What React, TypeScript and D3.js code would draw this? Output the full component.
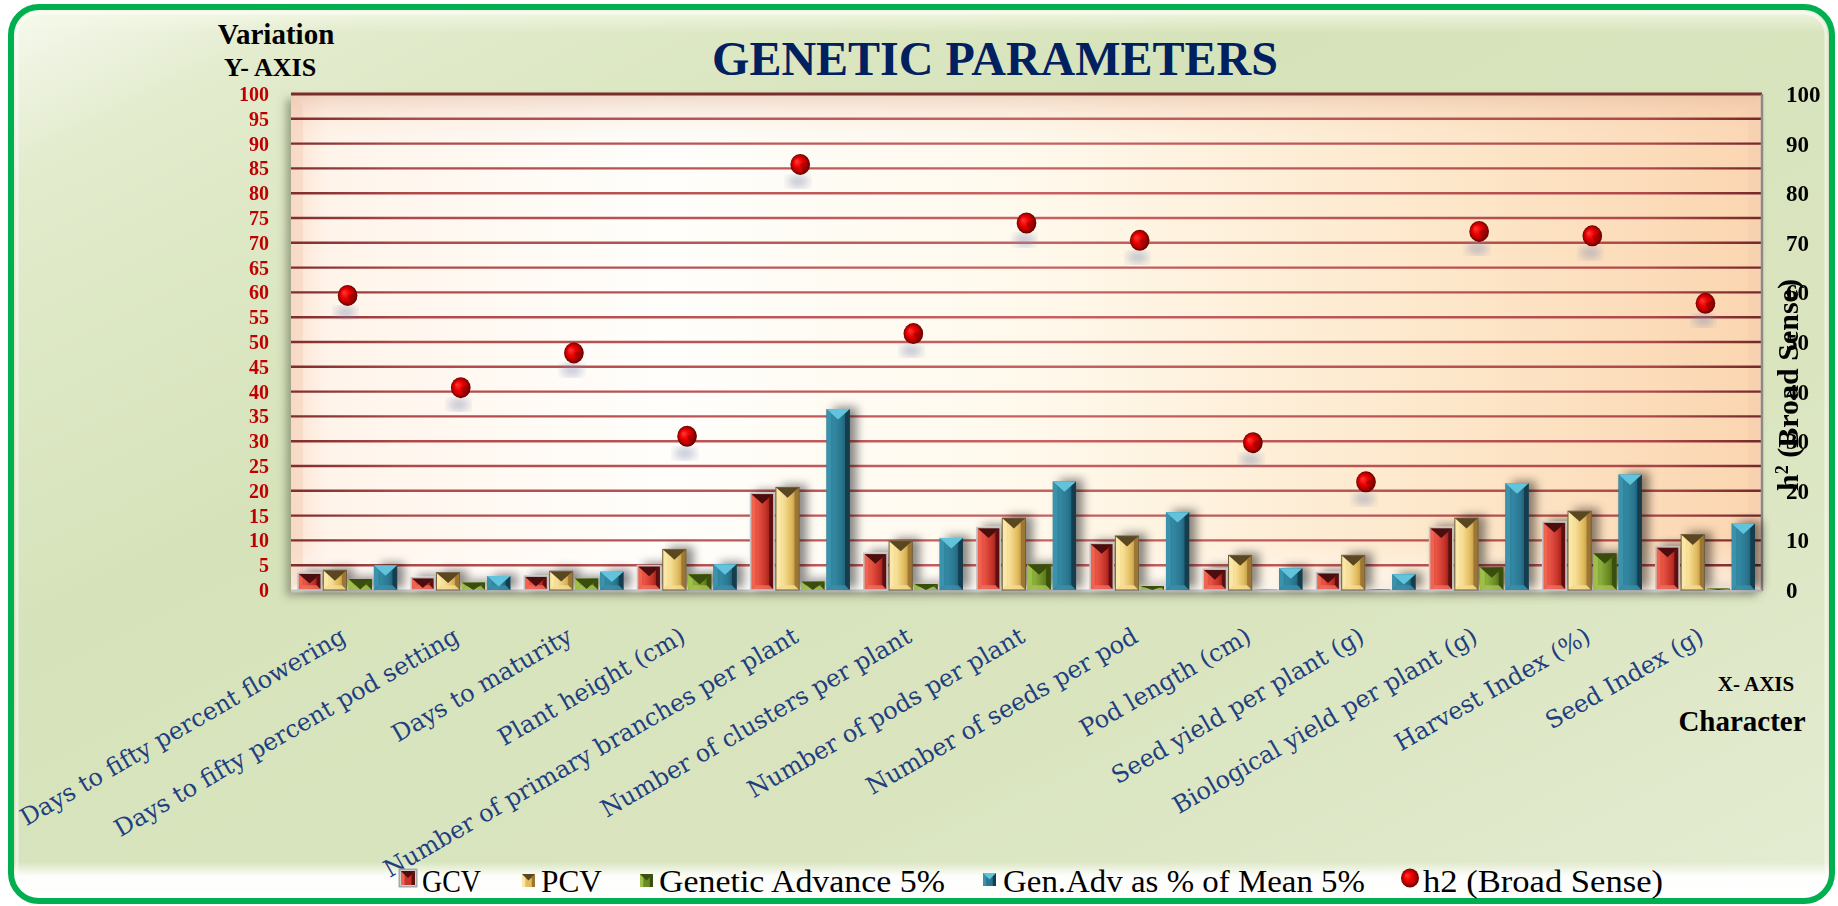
import React from "react";
import * as d3 from "d3";

const categories = [
  "Days to fifty percent flowering",
  "Days to fifty percent pod setting",
  "Days to maturity",
  "Plant height (cm)",
  "Number of primary branches per plant",
  "Number of clusters per plant",
  "Number of pods per plant",
  "Number of seeds per pod",
  "Pod length (cm)",
  "Seed yield per plant (g)",
  "Biological yield per plant (g)",
  "Harvest Index (%)",
  "Seed Index (g)",
];
const gcv = [3.4, 2.5, 2.8, 4.9, 19.5, 7.4, 12.6, 9.4, 4.2, 3.5, 12.6, 13.7, 8.7];
const pcv = [4.0, 3.5, 3.8, 8.2, 20.7, 9.9, 14.5, 10.9, 7.0, 7.0, 14.5, 15.9, 11.2];
const geneticAdvance = [2.2, 1.5, 2.3, 3.2, 1.7, 1.2, 5.2, 0.8, 0.05, 0.1, 4.6, 7.4, 0.3];
const gaPercentMean = [5.0, 2.8, 3.7, 5.2, 36.5, 10.5, 21.9, 15.7, 4.4, 3.2, 21.5, 23.3, 13.4];
const h2 = [59.4, 40.8, 47.8, 31.0, 85.8, 51.7, 74.0, 70.5, 29.7, 21.8, 72.3, 71.4, 57.8];

const seriesNames = ["GCV", "PCV", "Genetic Advance 5%", "Gen.Adv as % of Mean 5%"];
const h2Name = "h2 (Broad Sense)";
const leftTicks = [0, 5, 10, 15, 20, 25, 30, 35, 40, 45, 50, 55, 60, 65, 70, 75, 80, 85, 90, 95, 100];
const rightTicks = [0, 10, 20, 30, 40, 50, 60, 70, 80, 90, 100];

const W = 1838;
const H = 906;
const PL = 291, PR = 1762, PT = 94, PB = 590;

const barStyles = [
  { g: ["#d8443a", "#e85444", "#c63328", "#6a1414"], left: "#f0644f", right: "#5e1010", cap: "#4e0c0c", bottom: "#f07060", stroke: "#c4c4c4", sw: 1.6 },
  { g: ["#f2d27c", "#f7e19a", "#e2bc5e", "#a8843a"], left: "#fbe8a8", right: "#9c7630", cap: "#5a4620", bottom: "#f6dc94", stroke: "#6e5e40", sw: 1 },
  { g: ["#7c9c30", "#8cae3c", "#6a8a24", "#445e14"], left: "#9ec04a", right: "#3a5010", cap: "#3a4e0e", bottom: "#a6c454", stroke: "none", sw: 0 },
  { g: ["#276e86", "#3388a2", "#2a7690", "#17485a"], left: "#3a92ac", right: "#143e4e", cap: "#62c4dc", bottom: "#3a90aa", stroke: "none", sw: 0 },
];

function Bar({ x, y, w, h, i }: { x: number; y: number; w: number; h: number; i: number }) {
  if (h <= 0.2) return null;
  const st = barStyles[i];
  const b = Math.min(w * 0.2, h / 2);
  const capD = Math.min(w * 0.45, h);
  return (
    <g>
      <rect x={x} y={y} width={w} height={h} fill={`url(#barg${i})`} />
      <polygon points={`${x},${y} ${x + b},${y + b} ${x + b},${y + h - b} ${x},${y + h}`} fill={st.left} />
      <polygon points={`${x + w},${y} ${x + w - b},${y + b} ${x + w - b},${y + h - b} ${x + w},${y + h}`} fill={st.right} />
      <polygon points={`${x},${y + h} ${x + b},${y + h - b} ${x + w - b},${y + h - b} ${x + w},${y + h}`} fill={st.bottom} opacity={0.8} />
      <polygon points={`${x},${y} ${x + w},${y} ${x + w / 2},${y + capD}`} fill={st.cap} />
      {st.stroke !== "none" && (
        <rect x={x} y={y} width={w} height={h} fill="none" stroke={st.stroke} strokeWidth={st.sw} />
      )}
    </g>
  );
}

function LegendMarker({ x, y, s, i }: { x: number; y: number; s: number; i: number }) {
  const st = barStyles[i];
  const b = s * 0.25;
  return (
    <g>
      <rect x={x} y={y} width={s} height={s} fill={st.g[2]} />
      <polygon points={`${x},${y} ${x + b},${y + b} ${x + b},${y + s} ${x},${y + s}`} fill={st.left} />
      <polygon points={`${x + s},${y} ${x + s - b},${y + b} ${x + s - b},${y + s} ${x + s},${y + s}`} fill={st.right} />
      <polygon points={`${x},${y} ${x + s},${y} ${x + s / 2},${y + s * 0.5}`} fill={st.cap} />
      {i === 0 && <rect x={x - 1.5} y={y - 1.5} width={s + 3} height={s + 3} fill="none" stroke="#a8a8a8" strokeWidth={2} />}
    </g>
  );
}

export default function App() {
  const x = d3.scaleBand<string>().domain(categories).range([PL, PR]).paddingInner(0).paddingOuter(0);
  const bw = x.bandwidth();
  const inner = d3
    .scaleBand<number>()
    .domain([0, 1, 2, 3])
    .range([bw * 0.062, bw * 0.938])
    .paddingInner(0.08);
  const y = d3.scaleLinear().domain([0, 100]).range([PB, PT]);
  const y2 = d3.scaleLinear().domain([0, 100]).range([PB, PT]);
  const series = [gcv, pcv, geneticAdvance, gaPercentMean];

  const serif = "'Liberation Serif', 'Times New Roman', serif";

  const legendItems = [
    { name: seriesNames[0], tx: 422, len: 59 },
    { name: seriesNames[1], tx: 541, len: 61 },
    { name: seriesNames[2], tx: 659, len: 286 },
    { name: seriesNames[3], tx: 1003, len: 362 },
    { name: h2Name, tx: 1423, len: 240 },
  ];

  return (
    <div style={{ position: "absolute", left: 0, top: 0, width: W, height: H, background: "#fff" }}>
      <svg width={W} height={H} viewBox={`0 0 ${W} ${H}`} style={{ display: "block" }}>
        <defs>
          <linearGradient id="bg" x1="0" y1="0" x2="1" y2="1">
            <stop offset="0" stopColor="#f6f9ee" />
            <stop offset="0.1" stopColor="#e2ebcc" />
            <stop offset="0.35" stopColor="#d6e3ba" />
            <stop offset="0.7" stopColor="#dae5c0" />
            <stop offset="1" stopColor="#e4ecd2" />
          </linearGradient>
          <linearGradient id="topHi" x1="0" y1="0" x2="0" y2="1">
            <stop offset="0" stopColor="#f4f9e6" stopOpacity="1" />
            <stop offset="1" stopColor="#f4f9e6" stopOpacity="0" />
          </linearGradient>
          <linearGradient id="botHi" x1="0" y1="0" x2="0" y2="1">
            <stop offset="0" stopColor="#ffffff" stopOpacity="0" />
            <stop offset="0.35" stopColor="#ffffff" stopOpacity="0.95" />
            <stop offset="1" stopColor="#ffffff" stopOpacity="1" />
          </linearGradient>
          <linearGradient id="plotH" x1="0" y1="0" x2="1" y2="0">
            <stop offset="0" stopColor="#fbe2d0" />
            <stop offset="0.025" stopColor="#fff4ea" />
            <stop offset="0.25" stopColor="#fffefb" />
            <stop offset="0.5" stopColor="#fff9ec" />
            <stop offset="0.8" stopColor="#fde6c8" />
            <stop offset="1" stopColor="#fbd5b0" />
          </linearGradient>
          <linearGradient id="plotTop" x1="0" y1="0" x2="0" y2="1">
            <stop offset="0" stopColor="#e0b49c" stopOpacity="0.5" />
            <stop offset="0.05" stopColor="#f4cdb4" stopOpacity="0.2" />
            <stop offset="0.12" stopColor="#ffffff" stopOpacity="0" />
            <stop offset="0.9" stopColor="#ffffff" stopOpacity="0" />
            <stop offset="1" stopColor="#ffffff" stopOpacity="0.6" />
          </linearGradient>
          <linearGradient id="gridG" gradientUnits="userSpaceOnUse" x1={PL} y1="0" x2={PR} y2="0">
            <stop offset="0" stopColor="#7e2c2c" />
            <stop offset="0.08" stopColor="#b04a4a" />
            <stop offset="0.5" stopColor="#c86262" />
            <stop offset="0.92" stopColor="#b04a4a" />
            <stop offset="1" stopColor="#742828" />
          </linearGradient>
          {barStyles.map((st, i) => (
            <linearGradient key={i} id={`barg${i}`} x1="0" y1="0" x2="1" y2="0">
              <stop offset="0" stopColor={st.g[0]} />
              <stop offset="0.3" stopColor={st.g[1]} />
              <stop offset="0.65" stopColor={st.g[2]} />
              <stop offset="1" stopColor={st.g[3]} />
            </linearGradient>
          ))}
          <radialGradient id="sphere" cx="0.5" cy="0.5" r="0.5" fx="0.3" fy="0.35">
            <stop offset="0" stopColor="#ff3a3a" />
            <stop offset="0.45" stopColor="#ee0000" />
            <stop offset="0.8" stopColor="#b00000" />
            <stop offset="1" stopColor="#5a0000" />
          </radialGradient>
          <filter id="barShadow" x="-50%" y="-20%" width="250%" height="140%">
            <feDropShadow dx="7" dy="-2" stdDeviation="5" floodColor="#000" floodOpacity="0.45" />
          </filter>
          <filter id="plotShadow" x="-5%" y="-5%" width="110%" height="110%">
            <feDropShadow dx="-5" dy="5" stdDeviation="4" floodColor="#5a5a40" floodOpacity="0.5" />
          </filter>
          <filter id="blur4">
            <feGaussianBlur stdDeviation="4" />
          </filter>
          <clipPath id="frameClip">
            <rect x={11} y={7} width={1821} height={894} rx={28} />
          </clipPath>
        </defs>

        {/* outer frame */}
        <rect x={11} y={7} width={1821} height={894} rx={28} fill="url(#bg)" />
        <g clipPath="url(#frameClip)">
          <rect x={11} y={7} width={1821} height={26} fill="url(#topHi)" />
          <rect x={11} y={862} width={1821} height={40} fill="url(#botHi)" />
          <rect x={17} y={13} width={1809} height={882} rx={22} fill="none" stroke="#ffffff" strokeOpacity={0.5} strokeWidth={3} />
        </g>
        <rect x={11} y={7} width={1821} height={894} rx={28} fill="none" stroke="#00b050" strokeWidth={6} />

        {/* title */}
        <text x={995} y={75} textAnchor="middle" fontFamily={serif} fontWeight="bold" fontSize={48} fill="#002060">
          GENETIC PARAMETERS
        </text>
        <text x={276} y={44} textAnchor="middle" fontFamily={serif} fontWeight="bold" fontSize={29} fill="#000">
          Variation
        </text>
        <text x={270} y={76} textAnchor="middle" fontFamily={serif} fontWeight="bold" fontSize={26} fill="#000">
          Y- AXIS
        </text>

        {/* plot area */}
        <rect x={PL} y={PT} width={PR - PL} height={PB - PT + 1} fill="url(#plotH)" filter="url(#plotShadow)" />
        <rect x={PL} y={PT} width={PR - PL} height={PB - PT + 1} fill="url(#plotTop)" />
        <polygon points={`${PL},${PT} ${PL + 12},${PT + 12} ${PL + 12},${PB - 12} ${PL},${PB}`} fill="#f2c8b2" opacity={0.35} />
        <polygon points={`${PR},${PT} ${PR - 14},${PT + 14} ${PR - 14},${PB - 14} ${PR},${PB}`} fill="#f4cdb0" opacity={0.5} />

        {/* gridlines */}
        {leftTicks.filter((t) => t > 0).map((t) => (
          <line key={t} x1={PL} x2={PR} y1={y(t)} y2={y(t)} stroke={t === 100 ? "#7a2c2c" : "url(#gridG)"} strokeWidth={t === 100 ? 3 : 2.4} />
        ))}
        <line x1={PR} x2={PR} y1={PT} y2={PB + 1} stroke="#8a8a8a" strokeWidth={2.5} />
        <line x1={PL} x2={PR} y1={PB + 1} y2={PB + 1} stroke="#c4c4c4" strokeWidth={3} />

        {/* bars */}
        <g filter="url(#barShadow)">
          {categories.map((c, ci) => (
            <g key={c}>
              {series.map((s, si) => {
                const bx = (x(c) as number) + (inner(si) as number);
                const by = y(s[ci]);
                return <Bar key={si} x={bx} y={by} w={inner.bandwidth()} h={PB - by} i={si} />;
              })}
            </g>
          ))}
        </g>

        {/* h2 points */}
        {categories.map((c, ci) => {
          const cx = (x(c) as number) + bw / 2;
          const cy = y2(h2[ci]);
          return (
            <g key={c}>
              <ellipse cx={cx - 2} cy={cy + 17} rx={11} ry={6} fill="#7a88b0" opacity={0.45} filter="url(#blur4)" />
              <ellipse cx={cx} cy={cy} rx={9.8} ry={10.5} fill="url(#sphere)" />
              <path d={`M${cx},${cy} L${cx + 9},${cy - 4} A9.8 10.5 0 0 1 ${cx + 4},${cy + 9.5} Z`} fill="#7a0000" opacity={0.45} />
            </g>
          );
        })}

        {/* left axis */}
        {leftTicks.map((t) => (
          <text key={t} x={269} y={y(t) + 7} textAnchor="end" fontFamily={serif} fontWeight="bold" fontSize={20} fill="#c00000">
            {t}
          </text>
        ))}
        {/* right axis */}
        {rightTicks.map((t) => (
          <text key={t} x={1786} y={y2(t) + 8} textAnchor="start" fontFamily={serif} fontWeight="bold" fontSize={23} fill="#000">
            {t}
          </text>
        ))}
        <text transform="translate(1798,385) rotate(-90)" textAnchor="middle" fontFamily={serif} fontWeight="bold" fontSize={30} fill="#000">
          h<tspan dy={-10} fontSize={18}>2</tspan>
          <tspan dy={10}> (Broad Sense)</tspan>
        </text>

        {/* x labels */}
        {categories.map((c) => (
          <text
            key={c}
            transform={`translate(${(x(c) as number) + bw / 2},641) rotate(-30)`}
            textAnchor="end"
            fontFamily="'DejaVu Serif', serif"
            fontSize={24}
            fill="#1f3f80"
          >
            {c}
          </text>
        ))}

        <text x={1756} y={691} textAnchor="middle" fontFamily={serif} fontWeight="bold" fontSize={21} fill="#000">
          X- AXIS
        </text>
        <text x={1742} y={731} textAnchor="middle" fontFamily={serif} fontWeight="bold" fontSize={29} fill="#000">
          Character
        </text>

        {/* legend */}
        <LegendMarker x={401} y={871} s={14} i={0} />
        <LegendMarker x={522} y={874} s={13} i={1} />
        <LegendMarker x={640} y={874} s={13} i={2} />
        <LegendMarker x={983} y={873} s={13} i={3} />
        <ellipse cx={1410} cy={878} rx={9} ry={9.5} fill="url(#sphere)" />
        {legendItems.map((it) => (
          <text
            key={it.name}
            x={it.tx}
            y={892}
            fontFamily={serif}
            fontSize={32}
            fill="#000"
            textLength={it.len}
            lengthAdjust="spacingAndGlyphs"
          >
            {it.name}
          </text>
        ))}
      </svg>
    </div>
  );
}
